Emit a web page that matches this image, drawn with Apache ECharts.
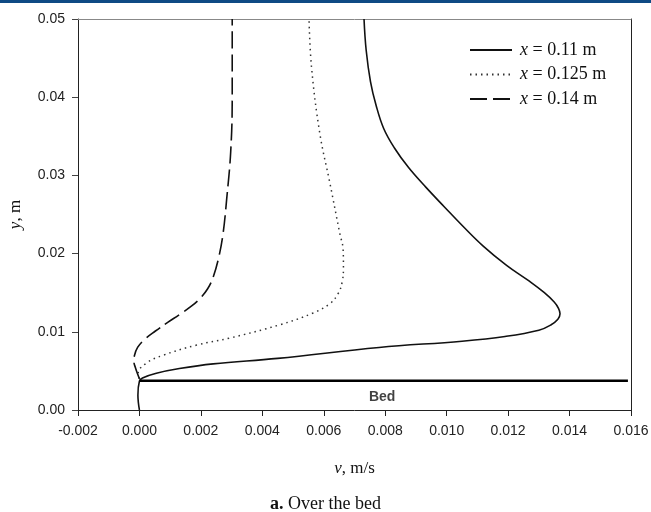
<!DOCTYPE html>
<html>
<head>
<meta charset="utf-8">
<script src="https://cdn.jsdelivr.net/npm/echarts@6/dist/echarts.min.js"></script>
<style>
  html, body { margin: 0; padding: 0; background: #fff; }
  #chart { width: 651px; height: 512px; }
</style>
</head>
<body>
<div id="chart"></div>
<script>
// Velocity profiles v (m/s) against height y (m) at three stations over the bed
const profile011 = [
  [0, 0], [-0.00005, 0.0019], [0, 0.0037], [0.0001, 0.0041], [0.00055, 0.0047],
  [0.0013, 0.0053], [0.0024, 0.0059], [0.0045, 0.0066], [0.0078, 0.0080], [0.0105, 0.0088],
  [0.0119, 0.0094], [0.0130, 0.0102], [0.0134, 0.0109], [0.01362, 0.0116], [0.01369, 0.0123],
  [0.01364, 0.0130], [0.0135, 0.0138], [0.01318, 0.0150], [0.01268, 0.0165], [0.01195, 0.0185],
  [0.01118, 0.0210], [0.01053, 0.0235], [0.00992, 0.0260], [0.00932, 0.0285], [0.00876, 0.0310],
  [0.0083, 0.0335], [0.00795, 0.0360], [0.0077, 0.0390], [0.00752, 0.0420], [0.00738, 0.0460],
  [0.00731, 0.0500]
];
const profile0125 = [
  [0, 0.0040], [-0.00004, 0.0047], [0.00023, 0.0060], [0.00077, 0.0070], [0.00186, 0.0083],
  [0.00294, 0.0092], [0.00457, 0.0109], [0.00565, 0.0124], [0.0062, 0.0136], [0.00647, 0.0149],
  [0.0066, 0.0164], [0.00664, 0.0183], [0.00663, 0.0205], [0.00652, 0.0226], [0.0062, 0.0290],
  [0.00587, 0.0354], [0.0056, 0.0439], [0.00552, 0.0500]
];
const profile014 = [
  [0, 0.0040], [-0.00006, 0.0046], [-0.00013, 0.0054], [-0.00018, 0.0062], [-0.00016, 0.0070],
  [-0.00006, 0.0080], [0.00016, 0.0090], [0.00052, 0.0101], [0.00092, 0.0112], [0.0013, 0.0122],
  [0.0017, 0.0133], [0.00198, 0.0143], [0.00222, 0.0155], [0.0024, 0.0170], [0.00258, 0.0195],
  [0.00272, 0.0225], [0.00284, 0.0270], [0.00297, 0.0330], [0.00302, 0.0400], [0.00302, 0.0500]
];
const seriesNames = ['x = 0.11 m', 'x = 0.125 m', 'x = 0.14 m'];
const bedLevel = 0.00375;
const bedExtent = [0, 0.0159];
const bedLabelAt = [0.0079, 0.0017];
const xTicks = { min: -0.002, max: 0.016, step: 0.002 };
const yTicks = { min: 0, max: 0.05, step: 0.01 };

const serif = 'Liberation Serif';
const sans = 'Liberation Sans';

const chart = echarts.init(document.getElementById('chart'));

chart.setOption({
  animation: false,
  backgroundColor: '#fff',
  grid: { left: 78, right: 20, top: 19, bottom: 102, containLabel: false, outerBoundsMode: 'none' },
  title: {
    text: '{b|a.} Over the bed',
    left: 'center',
    top: 495,
    padding: 0,
    textStyle: {
      fontFamily: serif, fontSize: 18, fontWeight: 'normal', color: '#111',
      rich: { b: { fontFamily: serif, fontSize: 18, fontWeight: 'bold', color: '#111' } }
    }
  },
  graphic: [
    { type: 'rect', left: 0, top: 0, shape: { width: 651, height: 3 }, style: { fill: '#0f4a84' } }
  ],
  legend: {
    orient: 'vertical',
    left: 469,
    top: 41,
    padding: 0,
    itemWidth: 42,
    itemHeight: 14,
    itemGap: 6.5,
    data: seriesNames,
    itemStyle: { opacity: 0 },
    formatter: n => '{i|x}' + n.slice(1),
    textStyle: {
      fontFamily: serif, fontSize: 18, lineHeight: 18, color: '#111', padding: [0, 0, 0, 3],
      rich: { i: { fontFamily: serif, fontSize: 18, lineHeight: 18, fontStyle: 'italic', color: '#111' } }
    }
  },
  xAxis: [{
    type: 'value',
    min: xTicks.min, max: xTicks.max, interval: xTicks.step,
    name: '{i|v}, m/s',
    nameLocation: 'middle',
    nameGap: 50,
    nameTextStyle: {
      fontFamily: serif, fontSize: 17, color: '#111',
      rich: { i: { fontFamily: serif, fontSize: 17, fontStyle: 'italic', color: '#111' } }
    },
    axisLine: { show: true, onZero: false, lineStyle: { color: '#222', width: 1 } },
    axisTick: { show: true, inside: false, length: 6, lineStyle: { color: '#222' } },
    axisLabel: { margin: 14, fontFamily: sans, fontSize: 14, color: '#222',
      formatter: v => v.toFixed(3) },
    splitLine: { show: false }
  }, {
    type: 'value', position: 'top',
    min: xTicks.min, max: xTicks.max,
    axisLine: { show: true, onZero: false, lineStyle: { color: '#888', width: 1 } },
    axisTick: { show: false }, axisLabel: { show: false }, splitLine: { show: false }
  }],
  yAxis: [{
    type: 'value',
    min: yTicks.min, max: yTicks.max, interval: yTicks.step,
    name: '{i|y}, m',
    nameLocation: 'middle',
    nameGap: 54,
    nameRotate: 90,
    nameTextStyle: {
      fontFamily: serif, fontSize: 17, color: '#111',
      rich: { i: { fontFamily: serif, fontSize: 17, fontStyle: 'italic', color: '#111' } }
    },
    axisLine: { show: true, onZero: false, lineStyle: { color: '#222', width: 1 } },
    axisTick: { show: true, inside: false, length: 6, lineStyle: { color: '#444' } },
    axisLabel: { margin: 13, fontFamily: sans, fontSize: 14, color: '#222',
      formatter: v => v.toFixed(2) },
    splitLine: { show: false }
  }, {
    type: 'value', position: 'right',
    min: yTicks.min, max: yTicks.max,
    axisLine: { show: true, onZero: false, lineStyle: { color: '#222', width: 1 } },
    axisTick: { show: false }, axisLabel: { show: false }, splitLine: { show: false }
  }],
  series: [
    {
      name: seriesNames[0], type: 'line', data: profile011,
      symbol: 'none', smooth: 0.4, z: 5,
      lineStyle: { color: '#111', width: 1.6, type: 'solid' },
      itemStyle: { color: '#111' }
    },
    {
      name: seriesNames[1], type: 'line', data: profile0125,
      symbol: 'none', smooth: 0.4, z: 4,
      lineStyle: { color: '#333', width: 1.5, type: [1.5, 4] },
      itemStyle: { color: '#333' }
    },
    {
      name: seriesNames[2], type: 'line', data: profile014,
      symbol: 'none', smooth: 0.4, z: 4,
      lineStyle: { color: '#111', width: 1.6, type: [17, 6] },
      itemStyle: { color: '#111' }
    },
    {
      name: 'Bed', type: 'line',
      data: [[bedExtent[0], bedLevel], [bedExtent[1], bedLevel]],
      symbol: 'none', z: 6,
      lineStyle: { color: '#000', width: 2.6 }
    },
    {
      name: 'BedLabel', type: 'scatter',
      data: [bedLabelAt], symbolSize: 0,
      label: { show: true, position: 'inside', formatter: 'Bed',
        fontFamily: sans, fontSize: 14, fontWeight: 'bold', color: '#111' }
    }
  ]
});
</script>
</body>
</html>
